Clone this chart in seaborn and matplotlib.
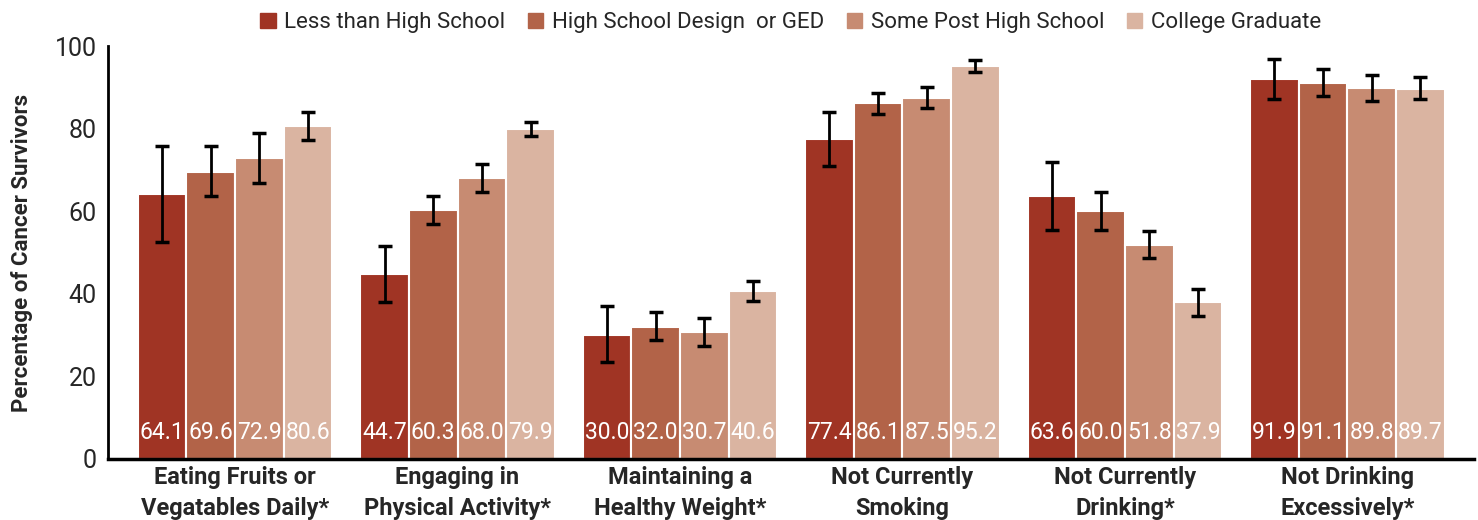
import matplotlib
matplotlib.use("Agg")
import matplotlib.pyplot as plt
import seaborn as sns
import pandas as pd
import numpy as np

# Behaviour categories along the x axis
categories = [
    "Eating Fruits or\nVegatables Daily*",
    "Engaging in\nPhysical Activity*",
    "Maintaining a\nHealthy Weight*",
    "Not Currently\nSmoking",
    "Not Currently\nDrinking*",
    "Not Drinking\nExcessively*",
]

# Education levels (hue)
education = [
    "Less than High School",
    "High School Design  or GED",
    "Some Post High School",
    "College Graduate",
]

# Percentages per education level, one value per category
less_than_hs = [64.1, 44.7, 30.0, 77.4, 63.6, 91.9]
hs_or_ged = [69.6, 60.3, 32.0, 86.1, 60.0, 91.1]
some_post_hs = [72.9, 68.0, 30.7, 87.5, 51.8, 89.8]
college_grad = [80.6, 79.9, 40.6, 95.2, 37.9, 89.7]

# 95% confidence interval bounds
less_than_hs_lo = [52.6, 38.0, 23.5, 70.9, 55.4, 87.2]
less_than_hs_hi = [75.9, 51.6, 37.0, 84.1, 71.9, 96.9]
hs_or_ged_lo = [63.7, 56.9, 28.9, 83.5, 55.4, 87.9]
hs_or_ged_hi = [75.9, 63.7, 35.7, 88.7, 64.6, 94.4]
some_post_hs_lo = [66.9, 64.6, 27.4, 85.0, 48.7, 86.7]
some_post_hs_hi = [79.0, 71.5, 34.2, 90.1, 55.3, 93.0]
college_grad_lo = [77.3, 78.3, 38.3, 93.7, 34.7, 87.2]
college_grad_hi = [84.1, 81.6, 43.2, 96.7, 41.2, 92.6]

colors = ["#A03424", "#B26348", "#C78B72", "#DAB4A1"]

values = [less_than_hs, hs_or_ged, some_post_hs, college_grad]
lows = [less_than_hs_lo, hs_or_ged_lo, some_post_hs_lo, college_grad_lo]
highs = [less_than_hs_hi, hs_or_ged_hi, some_post_hs_hi, college_grad_hi]

rows = []
for e, vals, lo, hi in zip(education, values, lows, highs):
    for c, v, l, h in zip(categories, vals, lo, hi):
        rows.append({"category": c, "education": e, "value": v, "lo": l, "hi": h})
df = pd.DataFrame(rows)

sns.set_theme(style="white")
plt.rcParams["font.family"] = ["Roboto", "DejaVu Sans"]

fig = plt.figure(figsize=(14.78, 5.2), dpi=100)
ax = fig.add_axes([108 / 1478, 61 / 520, 1366 / 1478, 413 / 520])

sns.barplot(
    data=df, x="category", y="value", hue="education",
    order=categories, hue_order=education, palette=colors,
    width=0.875, errorbar=None, edgecolor="white", linewidth=1.5,
    saturation=1, legend=False, ax=ax,
)

# Error bars and value labels placed at each bar's centre
for container, e in zip(ax.containers, education):
    sub = df[df["education"] == e].set_index("category").loc[categories]
    xs = [p.get_x() + p.get_width() / 2 for p in container.patches]
    ys = sub["value"].to_numpy()
    yerr = np.vstack([ys - sub["lo"].to_numpy(), sub["hi"].to_numpy() - ys])
    ax.errorbar(xs, ys, yerr=yerr, fmt="none", ecolor="black",
                elinewidth=2, capsize=5, capthick=2.5, zorder=5)
    for x, v in zip(xs, ys):
        ax.text(x, 6.3, f"{v:.1f}", ha="center", va="center",
                color="white", fontsize=16.5)

ax.set_ylim(0, 100)
ax.set_xlim(-0.571, 5.569)
ax.set_yticks([0, 20, 40, 60, 80, 100])
ax.tick_params(axis="y", length=6, width=2, labelsize=18, pad=2, color="black")
ax.tick_params(axis="x", which="major", length=0, labelsize=17, pad=5)
ax.set_xticks(np.arange(0.5, 5.0, 1.0), minor=True)
ax.tick_params(axis="x", which="minor", length=23, width=2, color="black")
for lbl in ax.get_xticklabels():
    lbl.set_fontweight("bold")
    lbl.set_linespacing(1.45)

ax.set_xlabel("")
ax.set_ylabel("Percentage of Cancer Survivors", fontsize=16,
              fontweight="bold", labelpad=16)

for side in ["top", "right"]:
    ax.spines[side].set_visible(False)
ax.spines["left"].set_linewidth(2)
ax.spines["bottom"].set_linewidth(2.5)
ax.spines["left"].set_color("black")
ax.spines["bottom"].set_color("black")

handles = [plt.Rectangle((0, 0), 1, 1, color=c) for c in colors]
fig.legend(handles, education, loc="upper center", bbox_to_anchor=(0.535, 1.015),
           ncol=4, frameon=False, fontsize=16, handlelength=0.7,
           handleheight=0.7, handletextpad=0.4, columnspacing=1.0)

fig.savefig("out.png", dpi=100)
